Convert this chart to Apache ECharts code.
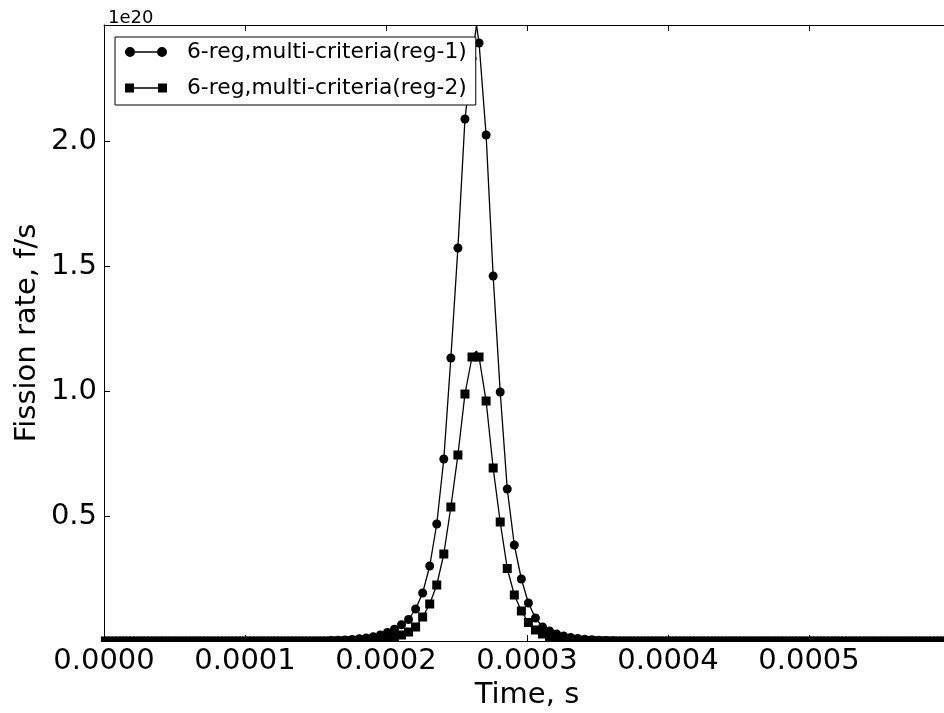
<!DOCTYPE html>
<html>
<head>
<meta charset="utf-8">
<script src="https://cdn.jsdelivr.net/npm/echarts@6/dist/echarts.min.js"></script>
<style>html,body{margin:0;padding:0;background:#fff;}#c{width:944px;height:713px;}</style>
</head>
<body>
<div id="c"></div>
<script>
// Values in units of 1e20 fission/s, sampled every 5e-6 s starting at 1e-6 s
const T0 = 1e-6;
const DT = 5e-6;
const seriesNames = ['6-reg,multi-criteria(reg-1)', '6-reg,multi-criteria(reg-2)'];
const reg1 = [
  0,0,0,0,0,0,0,0,0,0, 0,0,0,0,0,0,0,0,0,0, 0,0,0,0,0,0,0,0,0,0, 0,0,
  0.002,0.003,0.004,0.006,0.009,0.012,0.017,0.024,0.034,0.047,
  0.065,0.086,0.128,0.192,0.30,0.468,0.728,1.132,1.572,2.088,
  2.33,2.392,2.024,1.46,0.996,0.608,0.384,0.248,0.152,0.092,
  0.056,0.040,0.028,0.020,0.014,0.010,0.007,0.005,0.003,0.002,0.001,
  0,0,0,0,0,0,0,0,0,0, 0,0,0,0,0,0,0,0,0,0, 0,0,0,0,0,0,0,0,0,0,
  0,0,0,0,0,0,0,0,0,0, 0,0,0,0,0,0,0
];
const reg2 = [
  0,0,0,0,0,0,0,0,0,0, 0,0,0,0,0,0,0,0,0,0, 0,0,0,0,0,0,0,0,0,0, 0,0,0,0,0,
  0.001,0.002,0.003,0.005,0.007,0.011,0.016,0.024,0.036,0.056,
  0.096,0.148,0.224,0.348,0.536,0.744,0.988,1.136,1.136,0.96,
  0.692,0.476,0.29,0.184,0.12,0.074,0.044,0.028,0.018,0.011,
  0.007,0.004,0.003,0.002,0.001,
  0,0,0,0,0,0,0,0,0,0, 0,0,0,0,0,0,0,0,0,0, 0,0,0,0,0,0,0,0,0,0,
  0,0,0,0,0,0,0,0,0,0, 0,0,0,0,0,0,0,0,0,0
];
// unmarked peak samples of each curve [time, value]
const reg1Peak = [2.642e-4, 2.464];
const reg2Peak = [2.642e-4, 1.16];
const xTickStep = 1e-4;
const yTickStep = 0.5;
const xMax = 6e-4;
const yMax = 2.464;
const offsetLabel = '1e20';

function build(vals, peak) {
  const pts = vals.map((v, k) => ({ value: [T0 + k * DT, v] }));
  pts.push({ value: peak, symbol: 'none' });
  pts.sort((a, b) => a.value[0] - b.value[0]);
  return pts;
}

const FONT = 'DejaVu Sans';
const chart = echarts.init(document.getElementById('c'));
const axisCommon = {
  type: 'value',
  nameMoveOverlap: false,
  axisLine: { show: true, lineStyle: { color: '#000', width: 1 } },
  axisTick: { show: true, inside: true, length: 6, lineStyle: { color: '#000', width: 1 } },
  splitLine: { show: false }
};
chart.setOption({
  animation: false,
  backgroundColor: '#fff',
  title: {
    text: offsetLabel, left: 103, top: 4,
    textStyle: { fontFamily: FONT, fontSize: 18, fontWeight: 'normal', color: '#000' }
  },
  grid: { left: 104, top: 25, width: 846, bottom: 72, containLabel: false, outerBoundsMode: 'none' },
  // hides the part of the baseline markers that falls below the plot frame (as the clipped reference does)
  graphic: [{
    type: 'rect', left: 100, top: 642, z: 50,
    shape: { width: 844, height: 5 },
    style: { fill: '#fff' }
  }],
  legend: {
    orient: 'vertical', left: 115, top: 37,
    padding: [4, 9, 6, 10], itemGap: 14,
    itemWidth: 42, itemHeight: 10,
    backgroundColor: '#fff', borderColor: '#000', borderWidth: 1,
    textStyle: { fontFamily: FONT, fontSize: 21.8, lineHeight: 22, color: '#000', padding: [0, 0, 0, 15] },
    itemStyle: { borderWidth: 0 },
    data: [
      { name: seriesNames[0], icon: 'path://M0,5a5,5 0 1,0 10,0a5,5 0 1,0 -10,0zM32,5a5,5 0 1,0 10,0a5,5 0 1,0 -10,0zM10,4.3h22v1.4h-22z' },
      { name: seriesNames[1], icon: 'path://M0,0.5h9v9h-9zM33,0.5h9v9h-9zM9,4.3h24v1.4h-24z' }
    ]
  },
  xAxis: [
    Object.assign({}, axisCommon, {
      min: 0, max: xMax, interval: xTickStep,
      name: 'Time, s', nameLocation: 'middle', nameGap: 40,
      nameTextStyle: { fontFamily: FONT, fontSize: 29, color: '#000' },
      axisLabel: { fontFamily: FONT, fontSize: 29, color: '#000', margin: 6, showMaxLabel: false,
        formatter: v => v.toFixed(4) }
    }),
    Object.assign({}, axisCommon, {
      position: 'top', min: 0, max: xMax, interval: xTickStep,
      axisLabel: { show: false }
    })
  ],
  yAxis: [
    Object.assign({}, axisCommon, {
      min: 0, max: yMax, interval: yTickStep,
      name: 'Fission rate, f/s', nameLocation: 'middle', nameGap: 62,
      nameTextStyle: { fontFamily: FONT, fontSize: 29, color: '#000' },
      axisLabel: { fontFamily: FONT, fontSize: 29, color: '#000', margin: 7,
        showMinLabel: false, showMaxLabel: false,
        formatter: v => v.toFixed(1) }
    })
  ],
  series: [
    {
      name: seriesNames[0], type: 'line', data: build(reg1, reg1Peak),
      symbol: 'circle', symbolSize: 9, showAllSymbol: true, clip: true,
      lineStyle: { color: '#000', width: 1.3 },
      itemStyle: { color: '#000', borderWidth: 0 }
    },
    {
      name: seriesNames[1], type: 'line', data: build(reg2, reg2Peak),
      symbol: 'rect', symbolSize: 9, showAllSymbol: true, clip: true,
      lineStyle: { color: '#000', width: 1.3 },
      itemStyle: { color: '#000', borderWidth: 0 }
    }
  ]
});
</script>
</body>
</html>
